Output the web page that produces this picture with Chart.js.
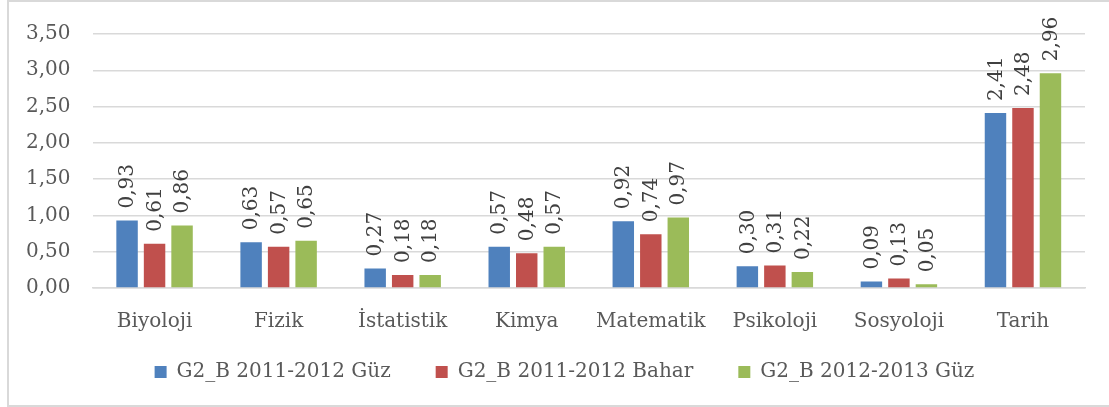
<!DOCTYPE html>
<html>
<head>
<meta charset="utf-8">
<script src="https://cdn.jsdelivr.net/npm/chart.js@4"></script>
<style>
  html, body { margin: 0; padding: 0; background: #fff; overflow: hidden; }
  #wrap { position: relative; width: 1109px; height: 407px; }
  #frame { position: absolute; left: 7px; top: 0; width: 1200px; height: 403px; border: 2px solid #d9d9d9; }
  canvas { position: absolute; left: 0; top: 0; }
</style>
</head>
<body>
<div id="wrap">
  <div id="frame"></div>
  <canvas id="grafico" width="1109" height="407"></canvas>
</div>
<script>
var kategoriler = ['Biyoloji', 'Fizik', 'İstatistik', 'Kimya', 'Matematik', 'Psikoloji', 'Sosyoloji', 'Tarih']
var seriAdlari = ['G2_B 2011-2012 Güz', 'G2_B 2011-2012 Bahar', 'G2_B 2012-2013 Güz']
var guz2011 = [0.93, 0.63, 0.27, 0.57, 0.92, 0.30, 0.09, 2.41]
var bahar2012 = [0.61, 0.57, 0.18, 0.48, 0.74, 0.31, 0.13, 2.48]
var guz2012 = [0.86, 0.65, 0.18, 0.57, 0.97, 0.22, 0.05, 2.96]
var renkler = ['#4F81BD', '#C0504D', '#9BBB59']

var yaziTipi = "'DejaVu Serif', serif"

function virgul(v) {
    return v.toFixed(2).replace('.', ',')
}

// degerleri cubuklarin ustune dik yaz
var degerEtiketleri = {
    id: 'degerEtiketleri',
    afterDatasetsDraw: function (chart) {
        var ctx = chart.ctx
        ctx.save()
        ctx.font = '20px ' + yaziTipi
        ctx.fillStyle = '#404040'
        ctx.textAlign = 'left'
        ctx.textBaseline = 'middle'
        chart.data.datasets.forEach(function (ds, i) {
            var meta = chart.getDatasetMeta(i)
            meta.data.forEach(function (bar, j) {
                ctx.save()
                ctx.translate(bar.x, bar.y - 12)
                ctx.rotate(-Math.PI / 2)
                ctx.fillText(virgul(ds.data[j]), 0, 1)
                ctx.restore()
            })
        })
        ctx.restore()
    }
}

// legend: yatay bosluk genis kalsin ama dikeyde yer kaplamasin
var lejantAyari = {
    id: 'lejantAyari',
    beforeUpdate: function (chart) {
        var lg = chart.legend
        if (!lg || lg._ayarli) return
        lg._ayarli = true
        var eskiFit = lg.fit
        var eskiDraw = lg.draw
        lg.fit = function () {
            eskiFit.call(this)
            this.height = 59
        }
        lg.draw = function () {
            var t = this.top, l = this.left, r = this.right
            this.top = t - 31
            this.left = l + 20
            this.right = r + 20
            eskiDraw.call(this)
            this.top = t
            this.left = l
            this.right = r
        }
    }
}

var seriler = [guz2011, bahar2012, guz2012].map(function (d, i) {
    return {
        label: seriAdlari[i],
        data: d,
        backgroundColor: renkler[i],
        borderWidth: 0,
        categoryPercentage: 0.665,
        barPercentage: 0.78
    }
})

var ctx = document.getElementById('grafico').getContext('2d')
var grafik = new Chart(ctx, {
    type: 'bar',
    data: {
        labels: kategoriler,
        datasets: seriler
    },
    options: {
        responsive: false,
        animation: false,
        layout: { padding: { left: 4, right: 24, top: 20, bottom: 0 } },
        plugins: {
            legend: {
                position: 'bottom',
                labels: {
                    boxWidth: 12,
                    boxHeight: 12,
                    padding: 45,
                    color: '#595959',
                    font: { family: yaziTipi, size: 20 }
                }
            },
            tooltip: { enabled: false }
        },
        scales: {
            x: {
                grid: { display: false },
                border: { color: '#d9d9d9', width: 1.5 },
                ticks: {
                    color: '#595959',
                    padding: 14,
                    font: { family: yaziTipi, size: 20 }
                }
            },
            y: {
                min: 0,
                max: 3.5,
                grid: { color: '#d9d9d9', lineWidth: 1.5, drawTicks: false },
                border: { display: false },
                ticks: {
                    stepSize: 0.5,
                    padding: 22,
                    color: '#595959',
                    font: { family: yaziTipi, size: 20 },
                    callback: function (v) { return virgul(v) }
                }
            }
        }
    },
    plugins: [degerEtiketleri, lejantAyari]
})
</script>
</body>
</html>
